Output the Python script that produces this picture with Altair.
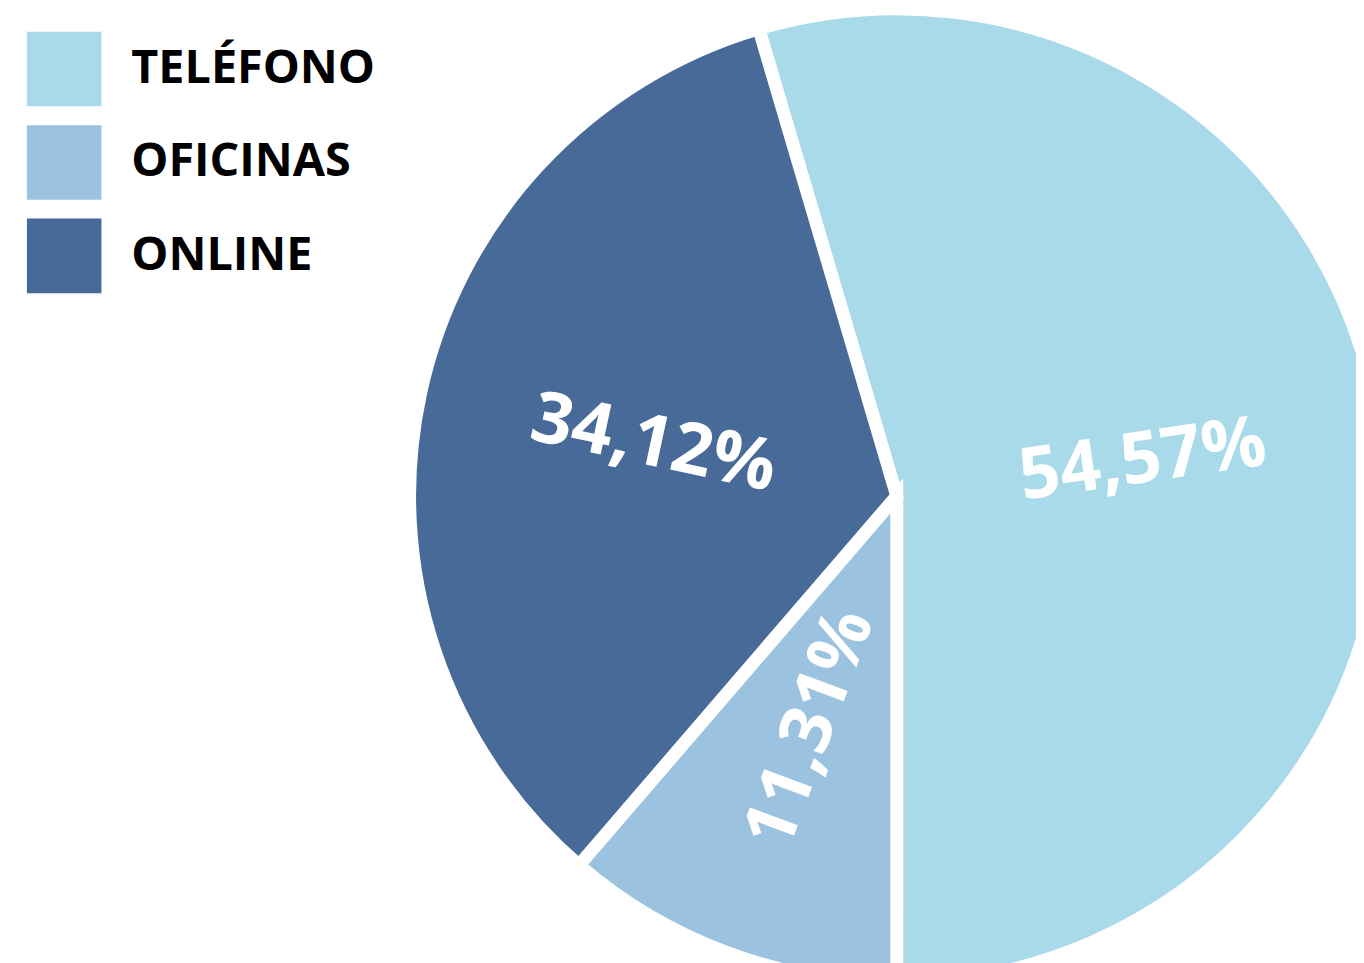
import math
import altair as alt
import pandas as pd

# ---- data ----
categories = ["TELÉFONO", "OFICINAS", "ONLINE"]
values = [54.57, 11.31, 34.12]
value_labels = ["54,57%", "11,31%", "34,12%"]
colors = ["#A8DAEA", "#9BC2DE", "#486A98"]

# ---- style constants ----
START_DEG = -16.45          # angle where the first slice starts (clockwise from 12 o'clock)
CX, CY = 894, 488           # pie centre in chart coordinates
R_OUT = 490
R_LABEL = 250

total = sum(values)
rows = []
cum = 0.0
for i, (c, v, l) in enumerate(zip(categories, values, value_labels)):
    mid = START_DEG + 360.0 * (cum + v / 2.0) / total
    cum += v
    rot = mid - 90.0
    while rot > 90:
        rot -= 180
    while rot <= -90:
        rot += 180
    rows.append({"cat": c, "value": v, "label": l, "idx": i, "rot": rot % 360})
df = pd.DataFrame(rows)

s = math.radians(START_DEG)
theta_scale = alt.Scale(range=[s, s + 2 * math.pi])

base = alt.Chart(df)

arcs = base.mark_arc(stroke="white", strokeWidth=13).encode(
    theta=alt.Theta("value:Q", stack=True, scale=theta_scale),
    color=alt.Color(
        "cat:N",
        scale=alt.Scale(domain=categories, range=colors),
        sort=categories,
        legend=alt.Legend(
            title=None,
            orient="none",
            legendX=19,
            legendY=21,
            symbolType="square",
            symbolSize=5625,
            symbolStrokeWidth=0,
            symbolOpacity=1,
            labelFontSize=47,
            labelFont="Open Sans",
            labelFontWeight="bold",
            labelColor="#000000",
            labelOffset=30,
            rowPadding=19,
            padding=0,
            labelLimit=0,
        ),
    ),
    order=alt.Order("idx:Q"),
    x=alt.value(CX),
    y=alt.value(CY),
    radius=alt.value(R_OUT),
)

texts = base.mark_text(
    color="white",
    font="Open Sans",
    fontWeight="bold",
    fontSize=72,
    align="center",
    baseline="middle",
).encode(
    theta=alt.Theta("value:Q", stack=True, scale=theta_scale),
    detail="cat:N",
    order=alt.Order("idx:Q"),
    text="label:N",
    angle=alt.Angle("rot:Q", scale=None),
    x=alt.value(CX),
    y=alt.value(CY),
    radius=alt.value(R_LABEL),
)

chart = (
    alt.layer(arcs, texts)
    .properties(
        width=1356,
        height=955,
        autosize=alt.AutoSizeParams(type="none"),
        padding=0,
        background="white",
    )
    .configure_view(stroke=None)
)

chart.save("out.html", embed_options={"renderer": "svg", "actions": False})
